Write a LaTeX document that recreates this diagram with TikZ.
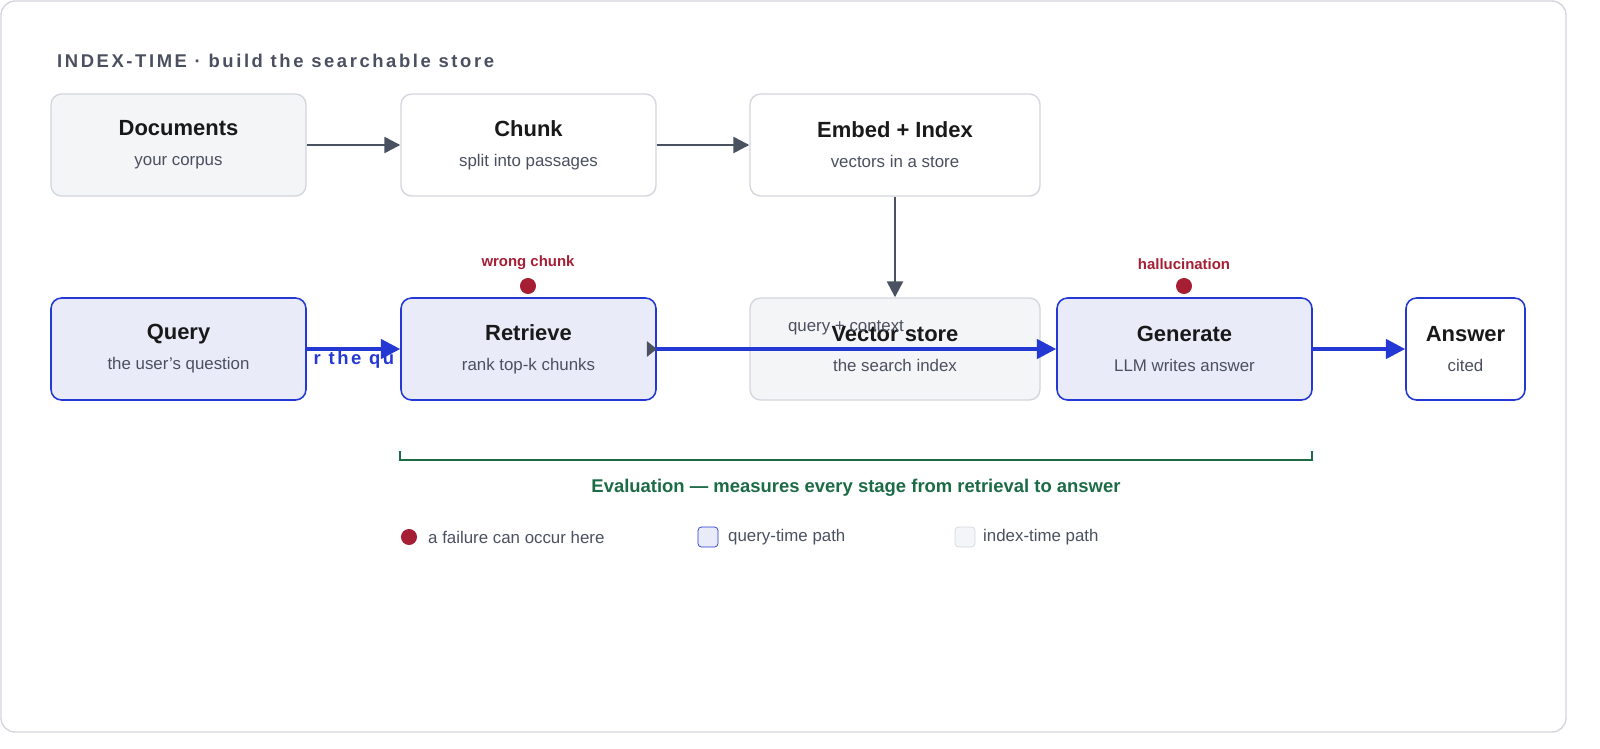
\documentclass[tikz,border=0pt]{standalone}
\usepackage{fontspec}
\setmainfont{Liberation Sans}
\usetikzlibrary{positioning,arrows.meta}
\definecolor{qblue}{HTML}{2438D4}
\definecolor{qfill}{HTML}{E9EBF8}
\definecolor{ifill}{HTML}{F4F5F7}
\definecolor{iline}{HTML}{D3D6DD}
\definecolor{agray}{HTML}{4A5160}
\definecolor{fred}{HTML}{A61E34}
\definecolor{egreen}{HTML}{1B6B45}
\definecolor{tgray}{HTML}{4B5060}
\newcommand{\boxtext}[2]{{\fontsize{12.5}{15}\selectfont\bfseries\color{black!90}#1}\\[5pt]{\fontsize{9.6}{12}\selectfont\color{tgray}#2}}
\tikzset{
  ibox/.style={draw=iline, fill=ifill, rounded corners=6pt, line width=0.8pt, align=center},
  wbox/.style={draw=iline, fill=white, rounded corners=6pt, line width=0.8pt, align=center},
  qbox/.style={draw=qblue, fill=qfill, rounded corners=6pt, line width=0.9pt, align=center},
  iarrow/.style={draw=agray, line width=1.4pt, -{Triangle[length=9pt,width=9pt]}},
  qarrow/.style={draw=qblue, line width=2pt, -{Triangle[length=11pt,width=11pt]}},
  fail/.style={circle, fill=fred, minimum size=16pt*0.57, inner sep=0pt},
  faillabel/.style={text=fred, font=\fontsize{8.5}{10}\selectfont\bfseries}
}
\begin{document}
\begin{tikzpicture}[x=0.02cm,y=-0.02cm]
\useasboundingbox (0,0) rectangle (1600,748);
\draw[draw=iline, rounded corners=8pt, line width=0.8pt] (1,1) rectangle (1566,732);
% index-time row
\node[anchor=west, text=tgray, font=\fontsize{10.5}{12}\selectfont\bfseries\addfontfeature{LetterSpace=14}] (hdr) at (51,61) {INDEX-TIME · build the searchable store};
\node[ibox, minimum width=255*0.02cm, minimum height=102*0.02cm] (docs) at (178.5,145) {\boxtext{Documents}{your corpus}};
\node[wbox, minimum width=255*0.02cm, minimum height=102*0.02cm] (chunk) at (528.5,145) {\boxtext{Chunk}{split into passages}};
\node[wbox, minimum width=290*0.02cm, minimum height=102*0.02cm] (embed) at (895,145) {\boxtext{Embed + Index}{vectors in a store}};
% query-time row
\node[text=qblue, font=\fontsize{10.5}{12}\selectfont\bfseries\addfontfeature{LetterSpace=14}] (qhdr) at (354,360) {r the qu};
\node[qbox, minimum width=255*0.02cm, minimum height=102*0.02cm] (query) at (178.5,349) {\boxtext{Query}{the user's question}};
\node[qbox, minimum width=255*0.02cm, minimum height=102*0.02cm] (retr) at (528.5,349) {\boxtext{Retrieve}{rank top-k chunks}};
\node[ibox, minimum width=290*0.02cm, minimum height=102*0.02cm] (vstore) at (895,349) {\boxtext{Vector store}{the search index}};
\node[qbox, minimum width=255*0.02cm, minimum height=102*0.02cm] (gen) at (1184.5,349) {\boxtext{Generate}{LLM writes answer}};
\node[wbox, draw=qblue, line width=0.9pt, minimum width=119*0.02cm, minimum height=102*0.02cm] (ans) at (1465.5,349) {\boxtext{Answer}{cited}};
\node[text=tgray, font=\fontsize{9.6}{12}\selectfont] (qc) at (846,328) {query + context};
% connectors
\draw[iarrow] (docs) -- (chunk);
\draw[iarrow] (chunk) -- (embed);
\draw[iarrow] (embed) -- (vstore);
\draw[qarrow] (query.east) -- (retr.west);
\fill[agray] (retr.east) ++(-10,-8) -- ++(10,8) -- ++(-10,8) -- cycle;
\draw[qarrow] (retr.east) -- (gen.west);
\draw[qarrow] (gen) -- (ans);
% failure points
\node[fail] (f1) at (528,286) {};
\node[faillabel, above=1pt of f1] (f1l) {wrong chunk};
\node[fail] (f2) at (1184,286) {};
\node[faillabel, above=1pt of f2] (f2l) {hallucination};
% evaluation bracket
\draw[egreen, line width=1.2pt] (400,451) -- (400,460) -- (1312,460) -- (1312,451);
\node[text=egreen, font=\fontsize{10.5}{12}\selectfont\bfseries] (eval) at (856,488) {Evaluation — measures every stage from retrieval to answer};
% legend
\node[fail] (lg1) at (409,537) {};
\node[anchor=west, text=tgray, font=\fontsize{9.6}{12}\selectfont] (lg1t) at (422,537) {a failure can occur here};
\node[draw=qblue, fill=qfill, rounded corners=2pt, minimum size=20*0.02cm, inner sep=0pt] (lg2) at (708,537) {};
\node[anchor=west, text=tgray, font=\fontsize{9.6}{12}\selectfont] (lg2t) at (722,537) {query-time path};
\node[draw=iline, fill=ifill, rounded corners=2pt, minimum size=20*0.02cm, inner sep=0pt] (lg3) at (965,537) {};
\node[anchor=west, text=tgray, font=\fontsize{9.6}{12}\selectfont] (lg3t) at (977,537) {index-time path};
\end{tikzpicture}
\end{document}
